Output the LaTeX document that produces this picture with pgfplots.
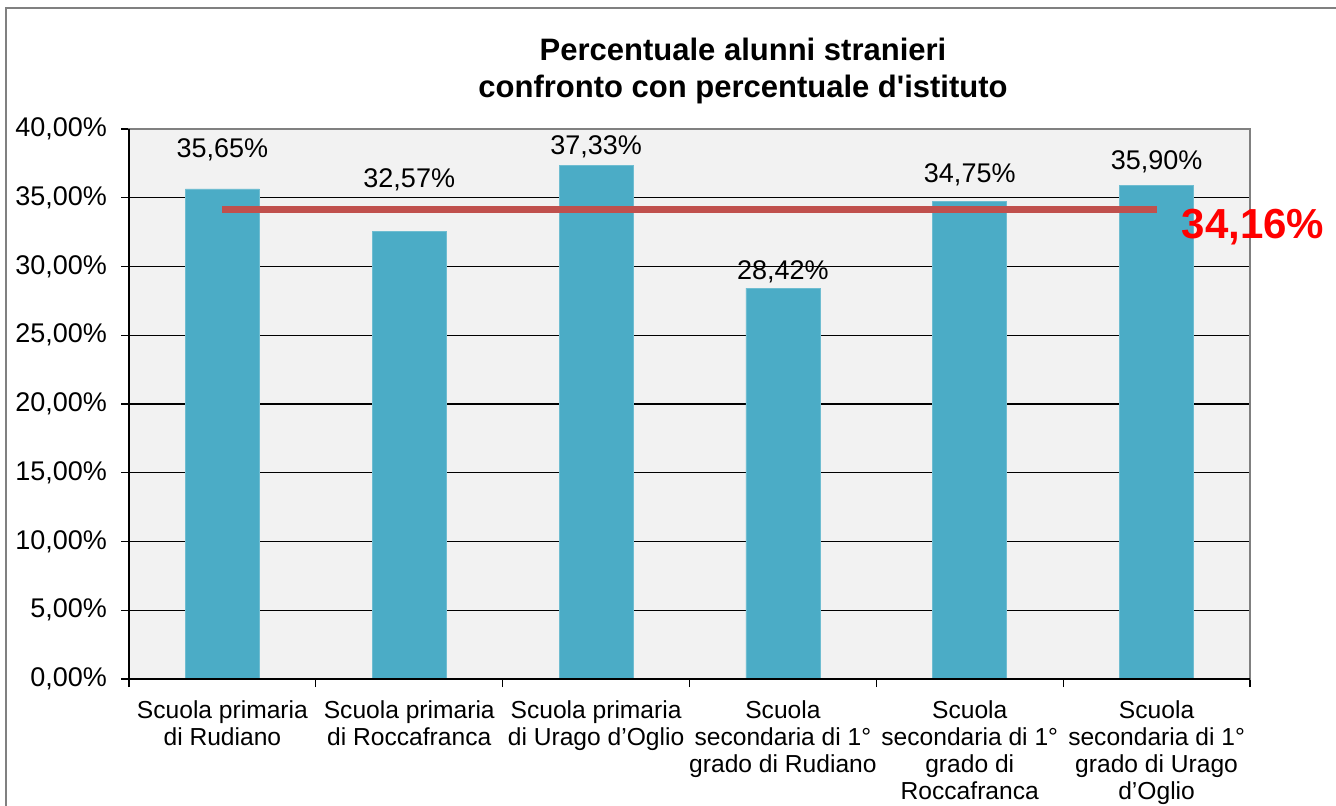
\documentclass[border=0pt]{standalone}
\usepackage{pgfplots}
\pgfplotsset{compat=1.18}
\usepackage{fontspec}
\setmainfont{Liberation Sans}
\newfontfamily\titlefont{Liberation Sans}[Ligatures=TeXOff]
\definecolor{barblue}{RGB}{75,172,198}
\definecolor{avgred}{RGB}{192,80,77}
\definecolor{plotbg}{RGB}{242,242,242}
\definecolor{framegray}{RGB}{128,128,128}

\begin{document}
\begin{tikzpicture}
\path[use as bounding box] (-64.5pt,-63pt) rectangle (603.5pt,339.5pt);
\draw[framegray, line width=1.1pt] (-61.5pt,-70pt) -- (-61.5pt,335.5pt) -- (620pt,335.5pt);
\node[anchor=base, font=\titlefont\bfseries\fontsize{15.5}{18}\selectfont] at (307pt,309.5pt) {Percentuale alunni stranieri};
\node[anchor=base, font=\titlefont\bfseries\fontsize{15.5}{18}\selectfont] at (307pt,291pt) {confronto con percentuale d'istituto};
\begin{axis}[
    at={(0,0)}, anchor=south west,
    scale only axis,
    width=560.5pt, height=275pt,
    clip=false,
    xmin=-0.5, xmax=5.5,
    ymin=0, ymax=40,
    ytick={0,5,10,15,20,25,30,35,40},
    yticklabels={{0,00\%},{5,00\%},{10,00\%},{15,00\%},{20,00\%},{25,00\%},{30,00\%},{35,00\%},{40,00\%}},
    ymajorgrids,
    grid style={black, line width=0.6pt},
    xtick={-0.5,0.5,1.5,2.5,3.5,4.5,5.5},
    xticklabels={},
    extra x ticks={0,1,2,3,4,5},
    extra x tick labels={{Scuola primaria\\di Rudiano},{Scuola primaria\\di Roccafranca},{Scuola primaria\\di Urago d’Oglio},{Scuola\\secondaria di 1°\\grado di Rudiano},{Scuola\\secondaria di 1°\\grado di\\Roccafranca},{Scuola\\secondaria di 1°\\grado di Urago\\d’Oglio}},
    extra x tick style={major tick length=0pt},
    xticklabel style={align=center, yshift=-7.5pt, font=\fontsize{12.3}{13.5}\selectfont},
    yticklabel style={xshift=-3.5pt, font=\fontsize{13.5}{15}\selectfont},
    tick align=outside,
    tick pos=left,
    major tick length=4pt,
    tick style={black, line width=0.6pt},
    axis line style={draw=framegray, line width=0.75pt},
    axis background/.style={fill=plotbg},
]
\addplot[ybar, bar width=37pt, fill=barblue, draw=barblue!80!white, line width=0.3pt]
  coordinates {(0,35.65) (1,32.57) (2,37.33) (3,28.42) (4,34.75) (5,35.90)};
\addplot[avgred, line width=3.5pt] coordinates {(0,34.16) (5,34.16)};
\addplot[draw=none, nodes near coords, point meta=explicit symbolic,
  every node near coord/.append style={anchor=center, font=\fontsize{13.5}{15}\selectfont}]
  coordinates {(0,38.48) [35,65\%] (1,36.30) [32,57\%] (2,38.70) [37,33\%]
               (3,29.62) [28,42\%] (4,36.70) [34,75\%] (5,37.60) [35,90\%]};
\addplot[draw=none, nodes near coords, point meta=explicit symbolic,
  every node near coord/.append style={anchor=center, text=red, font=\bfseries\fontsize{21}{24}\selectfont}]
  coordinates {(5.516,32.85) [34,16\%]};
\draw[black, line width=0.75pt] (rel axis cs:0,1) -- (rel axis cs:0,0) -- (rel axis cs:1,0);
\end{axis}
\end{tikzpicture}
\end{document}
